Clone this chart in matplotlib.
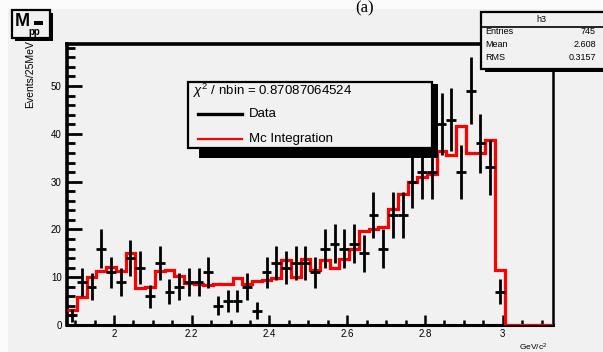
import numpy as np
import matplotlib
matplotlib.use('Agg')
import matplotlib.pyplot as plt
from matplotlib.patches import Rectangle
from matplotlib.ticker import MultipleLocator, FuncFormatter

plt.rcParams['font.family'] = ['Liberation Sans', 'DejaVu Sans']
plt.rcParams['mathtext.fontset'] = 'custom'
plt.rcParams['mathtext.rm'] = 'Liberation Sans'
plt.rcParams['mathtext.it'] = 'Liberation Sans:italic'

# binning of the p-pbar mass histogram (25 MeV bins)
mass_lo = 1.88
mass_hi = 3.13
n_bins = 50

# data counts per bin
data_counts = [2, 9, 8, 16, 11, 9, 14, 12, 6, 13,
               7, 8, 9, 9, 11, 4, 5, 5, 8, 3,
               11, 13, 12, 13, 13, 11, 16, 17, 16, 17,
               15, 23, 16, 23, 23, 30, 32, 32, 42, 43,
               32, 49, 38, 33, 7, 0, 0, 0, 0, 0]

# MC integration per bin
mc_counts = [3.1, 5.9, 10.0, 11.3, 12.2, 11.3, 15.0, 7.7, 7.9, 11.4,
             11.6, 10.3, 8.7, 8.6, 8.3, 8.6, 8.6, 9.9, 8.5, 9.2,
             9.5, 9.8, 13.5, 10.0, 13.8, 11.5, 13.6, 11.9, 13.9, 15.9,
             19.6, 20.1, 20.6, 24.2, 27.5, 30.0, 31.0, 31.7, 36.4, 35.6,
             41.6, 35.9, 35.9, 38.7, 11.5, 0, 0, 0, 0, 0]

chi2_text = r'$\chi^{2}$ / nbin = 0.87087064524'
stats_rows = [('Entries', '745'), ('Mean', '2.608'), ('RMS', '0.3157')]

edges = np.linspace(mass_lo, mass_hi, n_bins + 1)
centers = 0.5 * (edges[:-1] + edges[1:])
data = np.array(data_counts, dtype=float)
mc = np.array(mc_counts)

W, H = 603, 352
bg = '#f1f1f1'
fig = plt.figure(figsize=(W / 100, H / 100), dpi=100, facecolor=bg)

# main frame
ax = fig.add_axes([67.3 / W, 27 / H, 486 / W, 281 / H], facecolor=bg)
ax.set_xlim(mass_lo, mass_hi)
ax.set_ylim(0, 58.8)

ax.stairs(mc, edges, color='#ff0000', lw=2.3, baseline=None, zorder=3)
m = data > 0
ax.errorbar(centers[m], data[m], yerr=np.sqrt(data[m]), xerr=0.0125,
            fmt='none', ecolor='black', elinewidth=2.0, capsize=0, zorder=4)

ax.spines['top'].set_linewidth(2.6)
ax.spines['left'].set_linewidth(2.6)
ax.spines['bottom'].set_linewidth(2.2)
ax.spines['right'].set_linewidth(1.8)

ax.yaxis.set_major_locator(MultipleLocator(10))
ax.yaxis.set_minor_locator(MultipleLocator(2))
ax.xaxis.set_major_locator(MultipleLocator(0.2))
ax.xaxis.set_minor_locator(MultipleLocator(0.05))
fmt = FuncFormatter(lambda v, p: '%g' % round(v, 3))
ax.xaxis.set_major_formatter(fmt)
ax.yaxis.set_major_formatter(fmt)
ax.tick_params(axis='y', which='major', direction='in', length=11, width=2.0,
               labelsize=7, pad=4)
ax.tick_params(axis='y', which='minor', direction='in', length=6, width=2.0)
ax.tick_params(axis='x', which='major', direction='in', length=7, width=1.8,
               labelsize=7, pad=3)
ax.tick_params(axis='x', which='minor', direction='in', length=3.5, width=1.8)

# overlay in pixel coordinates for the ROOT boxes
ov = fig.add_axes([0, 0, 1, 1], zorder=5)
ov.set_xlim(0, W)
ov.set_ylim(H, 0)
ov.axis('off')
ov.patch.set_alpha(0)

ov.add_patch(Rectangle((0, 0), W, 9, facecolor='#fbfbfb', edgecolor='none'))
ov.add_patch(Rectangle((0, 0), 8, H, facecolor='#fbfbfb', edgecolor='none'))
ov.text(365, 0.5, '(a)', fontsize=12, family='Liberation Serif', ha='center', va='top')

# title box M_pp
ov.add_patch(Rectangle((15, 13), 38, 28, facecolor='black', edgecolor='none'))
ov.add_patch(Rectangle((12, 10), 38, 28, facecolor=bg, edgecolor='black', lw=1.6))
ov.text(14.5, 22, 'M', fontsize=13, fontweight='bold', ha='left', va='center')
ov.text(28, 32, 'pp', fontsize=7, fontweight='bold', ha='left', va='center')
ov.add_patch(Rectangle((34, 21), 9, 4, facecolor='black', edgecolor='none'))

# axis titles
ov.text(30, 40, 'Events/25MeV', fontsize=7.5, rotation=90, ha='center', va='top')
ov.text(533, 347, r'GeV/c$^{2}$', fontsize=6, ha='center', va='center')

# stats box
ov.add_patch(Rectangle((485, 14), 125, 58, facecolor='black', edgecolor='none'))
ov.add_patch(Rectangle((481, 11.5), 125, 57.5, facecolor=bg, edgecolor='black', lw=1.6))
ov.plot([481, 606], [26.7, 26.7], color='black', lw=1.2)
ov.text(541, 19, 'h3', fontsize=6.5, ha='center', va='center')
for i, (name, val) in enumerate(stats_rows):
    y = 32 + 12.8 * i
    ov.text(485, y, name, fontsize=6.5, ha='left', va='center')
    ov.text(596, y, val, fontsize=6.5, ha='right', va='center')

# legend box
ov.add_patch(Rectangle((199, 84), 239, 74, facecolor='black', edgecolor='none'))
ov.add_patch(Rectangle((188.3, 81.7), 243.4, 66.6, facecolor=bg, edgecolor='black', lw=1.6))
ov.text(193, 91, chi2_text, fontsize=9.5, ha='left', va='center')
ov.plot([198, 242], [114, 114], color='black', lw=2.4)
ov.text(249, 114, 'Data', fontsize=9.5, ha='left', va='center')
ov.plot([198, 242], [139, 139], color='#ff0000', lw=1.6)
ov.text(249, 139, 'Mc Integration', fontsize=9.5, ha='left', va='center')

fig.savefig('out.png', dpi=100, facecolor=bg)
